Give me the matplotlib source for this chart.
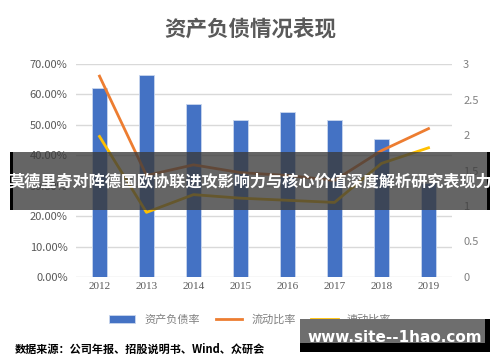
import matplotlib.pyplot as plt
from matplotlib.patches import Rectangle
from matplotlib.ticker import FuncFormatter

plt.rcParams['font.family'] = ['Noto Sans CJK SC', 'DejaVu Sans']

years = ['2012', '2013', '2014', '2015', '2016', '2017', '2018', '2019']
debt_ratio = [62.2, 66.4, 56.9, 51.6, 54.3, 51.6, 45.2, 31.0]   # 资产负债率 %
current_ratio = [2.83, 1.43, 1.58, 1.47, 1.43, 1.36, 1.78, 2.09]  # 流动比率
quick_ratio = [1.98, 0.91, 1.16, 1.11, 1.08, 1.05, 1.60, 1.82]    # 速动比率

fig = plt.figure(figsize=(5, 3.62), dpi=100)
ax = fig.add_axes([0.152, 0.235, 0.752, 0.588])
ax2 = ax.twinx()

x = range(len(years))
ax.bar(x, debt_ratio, width=0.3, color='#4472c4', edgecolor='#c9d6ee', linewidth=0.6,
       label='资产负债率', zorder=2)
ax2.plot(x, current_ratio, color='#ed7d31', lw=2, label='流动比率')
ax2.plot(x, quick_ratio, color='#ffc000', lw=2, label='速动比率')

ax.set_ylim(0, 70)
ax.set_yticks(range(0, 71, 10))
ax.yaxis.set_major_formatter(FuncFormatter(lambda v, p: f'{v:.2f}%'))
ax2.set_ylim(0, 3)
ax2.set_yticks([0, 0.5, 1, 1.5, 2, 2.5, 3])
ax2.set_yticklabels(['0', '0.5', '1', '1.5', '2', '2.5', '3'])
ax.set_xlim(-0.5, 7.5)
ax.set_xticks(list(x))
ax.set_xticklabels(years, family='Liberation Serif', fontsize=7.5, color='#707070')
ax.grid(axis='y', color='#d9d9d9', lw=1)
ax.set_axisbelow(True)
for a in (ax, ax2):
    for s in a.spines.values():
        s.set_visible(False)
    a.tick_params(length=0, colors='#595959', labelsize=8)
ax.tick_params(axis='y', pad=6)
ax2.tick_params(axis='y', pad=8, labelcolor='#808080')
ax.tick_params(axis='y', labelcolor='#595959')

fig.text(0.5, 0.917, '资产负债情况表现', ha='center', va='center', fontsize=15.5,
         fontweight='bold', color='#595959')

h1, l1 = ax.get_legend_handles_labels()
h2, l2 = ax2.get_legend_handles_labels()
fig.legend(h1 + h2, l1 + l2, loc='center', bbox_to_anchor=(0.5, 0.117), ncol=3,
           frameon=False, fontsize=8, labelcolor='#808080', handlelength=2.4,
           columnspacing=1.4)

# banner overlay
fig.patches.append(Rectangle((0.02, 0.42), 0.96, 0.16, transform=fig.transFigure,
                             facecolor='#3a3a3a', alpha=0.78, zorder=10))
fig.patches.append(Rectangle((0.02, 0.42), 0.006, 0.16, transform=fig.transFigure,
                             facecolor='black', zorder=11))
fig.patches.append(Rectangle((0.974, 0.42), 0.006, 0.16, transform=fig.transFigure,
                             facecolor='black', zorder=11))
fig.text(0.5, 0.5, '莫德里奇对阵德国欧协联进攻影响力与核心价值深度解析研究表现力',
         ha='center', va='center', fontsize=11.6, fontweight='bold', color='white',
         zorder=12)

# source and watermark
fig.text(0.03, 0.035, '数据来源：公司年报、招股说明书、Wind、众研会', ha='left',
         va='center', fontsize=8, fontweight='heavy', color='black')
fig.patches.append(Rectangle((0.6, 0.028), 0.38, 0.092, transform=fig.transFigure,
                             facecolor='black', zorder=10))
fig.patches.append(Rectangle((0.6, 0.052), 0.37, 0.068, transform=fig.transFigure,
                             facecolor='#6e6e6e', zorder=11))
fig.text(0.79, 0.068, 'www.site--1hao.com', ha='center', va='center', fontsize=11,
         fontweight='bold', color='white', family='DejaVu Sans', zorder=12)

plt.savefig('out.png', dpi=100)
